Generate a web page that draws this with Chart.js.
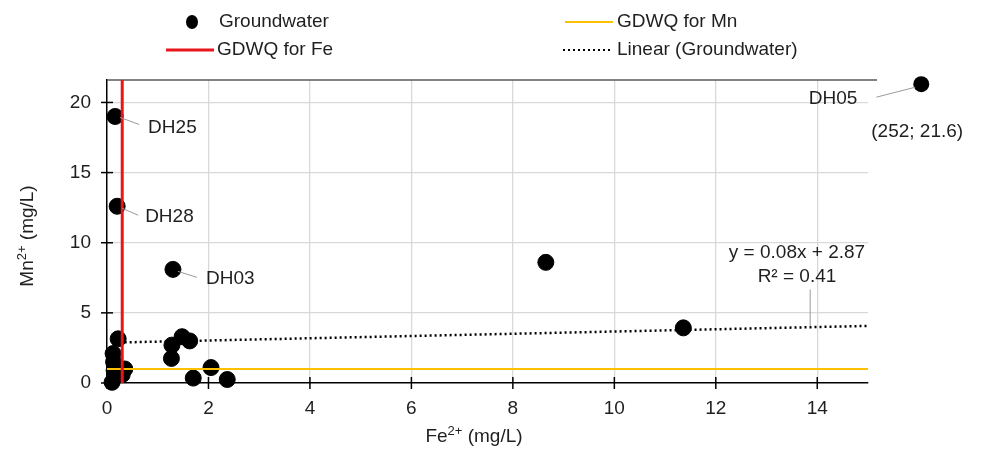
<!DOCTYPE html>
<html>
<head>
<meta charset="utf-8">
<script src="https://cdn.jsdelivr.net/npm/chart.js@4/dist/chart.umd.min.js"></script>
<style>
  html,body{margin:0;padding:0;background:#fff;}
  #wrap{width:982px;height:451px;}
</style>
</head>
<body>
<div id="wrap"><canvas id="chartA" width="982" height="451"></canvas></div>
<script>
// groundwater samples (Fe2+, Mn2+ in mg/L)
const feValues=[0.16,0.2,1.3,8.65,11.36,0.22,0.12,0.13,0.35,0.3,0.18,0.1,0.14,1.27,1.28,1.48,1.63,1.7,2.05,2.37];
const mnValues=[19.0,12.6,8.1,8.6,3.93,3.15,2.1,1.5,1.0,0.6,0.55,0.05,0.9,1.75,2.7,3.3,3.0,0.35,1.1,0.25];
const siteNames=['DH25','DH28','DH03'];
// DH05 is off scale (252; 21.6), drawn just past the axis break
const outlierFe=[16.05];
const outlierMn=[21.3];
const outlierName='DH05';
const outlierText='(252; 21.6)';
// guideline values and trend line
const gdwqFe=[0.3,0.3];
const gdwqFeY=[0,21.6];
const gdwqMnX=[0,15];
const gdwqMn=[1,1];
const trendFe=[0.25,15];
const trendMn=[2.89,4.07];
const trendEq='y = 0.08x + 2.87';
const trendR2='R² = 0.41';
const xTicks=[0,2,4,6,8,10,12,14];
const yTicks=[0,5,10,15,20];

const FONT='"Liberation Sans", Arial, sans-serif';
const TXT='#1f1f1f';
const RED='#e8161b', GOLD='#ffc000';

const toXY=(xs,ys)=>xs.map((x,i)=>({x,y:ys[i]}));

const extras={
  id:'extras',
  beforeDatasetsDraw(chart){
    const {ctx,chartArea:a}=chart;
    ctx.save();
    ctx.strokeStyle='#5a5a5a'; ctx.lineWidth=1.5;
    ctx.beginPath(); ctx.moveTo(a.left,a.top); ctx.lineTo(a.right+9,a.top); ctx.stroke();
    ctx.restore();
  },
  afterDraw(chart){
    const {ctx,chartArea:a,scales:{x,y}}=chart;
    ctx.save();
    // cross tick marks
    ctx.strokeStyle='#000'; ctx.lineWidth=1.5;
    xTicks.forEach(v=>{const p=x.getPixelForValue(v);ctx.beginPath();ctx.moveTo(p,a.bottom-6);ctx.lineTo(p,a.bottom+6);ctx.stroke();});
    yTicks.forEach(v=>{const p=y.getPixelForValue(v);ctx.beginPath();ctx.moveTo(a.left-6,p);ctx.lineTo(a.left+6,p);ctx.stroke();});

    ctx.font='19px '+FONT; ctx.fillStyle=TXT; ctx.textBaseline='middle';
    const lead=(x1,y1,x2,y2)=>{ctx.save();ctx.strokeStyle='#9a9a9a';ctx.lineWidth=1;ctx.beginPath();ctx.moveTo(x1,y1);ctx.lineTo(x2,y2);ctx.stroke();ctx.restore();};
    // site labels
    const offs=[[5,1,24,8,33,11],[5,2,21,9,28,11],[5,2,24,8,33,9]];
    siteNames.forEach((n,i)=>{
      const px=x.getPixelForValue(feValues[i]), py=y.getPixelForValue(mnValues[i]); const o=offs[i];
      lead(px+o[0],py+o[1],px+o[2],py+o[3]);
      ctx.textAlign='left'; ctx.fillText(n,px+o[4],py+o[5]);
    });
    // off-scale point beyond the break
    const ox=x.getPixelForValue(outlierFe[0]), oy=y.getPixelForValue(outlierMn[0]);
    ctx.fillStyle='#000'; ctx.beginPath(); ctx.arc(ox,oy,8,0,Math.PI*2); ctx.fill(); ctx.fillStyle=TXT;
    lead(ox-6,oy+3,ox-45,oy+13);
    ctx.textAlign='right'; ctx.fillText(outlierName,ox-64,oy+15);
    ctx.textAlign='left'; ctx.fillText(outlierText,ox-50,oy+48);
    // trend equation
    const ex=x.getPixelForValue(13.6), ey=y.getPixelForValue(9.3);
    ctx.textAlign='center'; ctx.fillText(trendEq,ex,ey); ctx.fillText(trendR2,ex,ey+24);
    const lx=x.getPixelForValue(13.85);
    const ty=trendMn[0]+(13.85-trendFe[0])*(trendMn[1]-trendMn[0])/(trendFe[1]-trendFe[0]);
    lead(lx+0.5,ey+37,lx+0.5,y.getPixelForValue(ty)-1);

    // axis titles with superscripts
    const sup=(parts,cx,cy)=>{
      let w=0; parts.forEach(p=>{ctx.font=(p[1]?'13px ':'19px ')+FONT; w+=ctx.measureText(p[0]).width;});
      let cur=cx-w/2; ctx.textAlign='left';
      parts.forEach(p=>{ctx.font=(p[1]?'13px ':'19px ')+FONT; ctx.fillText(p[0],cur,p[1]?cy-6:cy); cur+=ctx.measureText(p[0]).width;});
    };
    sup([['Fe',0],['2+',1],[' (mg/L)',0]],474,437);
    ctx.save(); ctx.translate(28,236); ctx.rotate(-Math.PI/2);
    sup([['Mn',0],['2+',1],[' (mg/L)',0]],0,0);
    ctx.restore();

    // legend
    ctx.font='19px '+FONT; ctx.textAlign='left';
    ctx.fillStyle='#000'; ctx.beginPath(); ctx.ellipse(192,22,6,7,0,0,Math.PI*2); ctx.fill();
    ctx.fillStyle=TXT; ctx.fillText('Groundwater',219,22);
    ctx.strokeStyle=RED; ctx.lineWidth=3; ctx.beginPath(); ctx.moveTo(166,50); ctx.lineTo(214,50); ctx.stroke();
    ctx.fillText('GDWQ for Fe',217,50);
    ctx.strokeStyle=GOLD; ctx.lineWidth=2; ctx.beginPath(); ctx.moveTo(565,22); ctx.lineTo(613,22); ctx.stroke();
    ctx.fillText('GDWQ for Mn',617,22);
    ctx.strokeStyle='#000'; ctx.lineWidth=2; ctx.setLineDash([2,3]); ctx.beginPath(); ctx.moveTo(563,50); ctx.lineTo(613,50); ctx.stroke(); ctx.setLineDash([]);
    ctx.fillText('Linear (Groundwater)',617,50);
    ctx.restore();
  }
};

new Chart(document.getElementById('chartA'),{
  type:'scatter',
  data:{datasets:[
    {label:'GDWQ for Fe',type:'line',data:toXY(gdwqFe,gdwqFeY),borderColor:RED,borderWidth:3,pointRadius:0,order:0},
    {label:'GDWQ for Mn',type:'line',data:toXY(gdwqMnX,gdwqMn),borderColor:GOLD,borderWidth:2,pointRadius:0,order:0},
    {label:'Groundwater',data:toXY(feValues,mnValues),backgroundColor:'#000',borderColor:'#000',pointRadius:8,pointHoverRadius:8,clip:false,order:1},
    {label:'Linear (Groundwater)',type:'line',data:toXY(trendFe,trendMn),borderColor:'#000',borderWidth:2.5,borderDash:[2,3],pointRadius:0,order:2}
  ]},
  options:{
    responsive:false,animation:false,devicePixelRatio:1,
    layout:{padding:{left:0,top:80,right:114,bottom:0}},
    plugins:{legend:{display:false},tooltip:{enabled:false}},
    scales:{
      x:{type:'linear',min:0,max:15,
        ticks:{stepSize:2,padding:14,color:TXT,font:{family:FONT,size:19}},
        afterBuildTicks:s=>{s.ticks=xTicks.map(v=>({value:v}));},
        afterFit:s=>{s.height=68;},
        grid:{color:c=>c.tick&&c.tick.value===0?'rgba(0,0,0,0)':'#d9d9d9',lineWidth:1.3,drawTicks:false},
        border:{color:'#000',width:1.5}},
      y:{type:'linear',min:0,max:21.6,
        ticks:{stepSize:5,padding:16,color:TXT,font:{family:FONT,size:19}},
        afterBuildTicks:s=>{s.ticks=yTicks.map(v=>({value:v}));},
        afterFit:s=>{s.width=107;},
        grid:{color:c=>c.tick&&c.tick.value===0?'rgba(0,0,0,0)':'#d9d9d9',lineWidth:1.3,drawTicks:false},
        border:{color:'#000',width:1.5}}
    }
  },
  plugins:[extras]
});
</script>
</body>
</html>
